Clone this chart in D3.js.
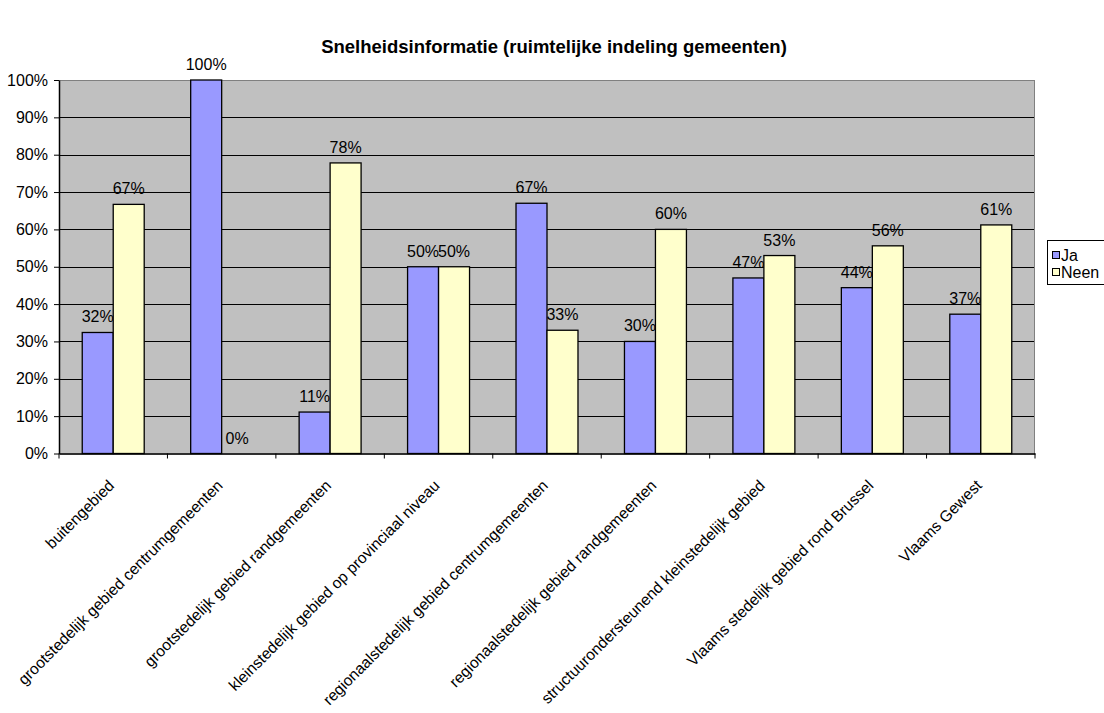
<!DOCTYPE html>
<html><head><meta charset="utf-8">
<script src="https://cdn.jsdelivr.net/npm/d3@7"></script>
<style>body{margin:0;background:#fff;font-family:Arial,"Liberation Sans",sans-serif}</style>
</head><body>
<svg id="c" width="1104" height="713"></svg>
<script>
const title = "Snelheidsinformatie (ruimtelijke indeling gemeenten)";
const categories = ["buitengebied","grootstedelijk gebied centrumgemeenten","grootstedelijk gebied randgemeenten","kleinstedelijk gebied op provinciaal niveau","regionaalstedelijk gebied centrumgemeenten","regionaalstedelijk gebied randgemeenten","structuurondersteunend kleinstedelijk gebied","Vlaams stedelijk gebied rond Brussel","Vlaams Gewest"];
const seriesNames = ["Ja","Neen"];
const ja = [32.4, 100, 11.1, 50, 67, 30, 47, 44.4, 37.3];
const neen = [66.7, 0, 77.8, 50, 33, 60, 53, 55.6, 61.2];
const colors = ["#9999FF","#FFFFCC"];
const yTicks = [0,10,20,30,40,50,60,70,80,90,100];

const FF = "Arial,'Liberation Sans',sans-serif";
const FS = "16px";
const svg = d3.select("#c");
const L = 59, R = 1035, T = 80, B = 453.5;
const x0 = d3.scaleBand().domain(categories).range([L,R]).paddingInner(0).paddingOuter(0);
const y = d3.scaleLinear().domain([0,100]).range([B,T]);
const bw = x0.bandwidth()/3.5;
const x1 = d3.scaleBand().domain(seriesNames).range([x0.bandwidth()*0.75/3.5, x0.bandwidth()*0.75/3.5 + 2*bw]);

svg.append("text").attr("x",554).attr("y",53).attr("text-anchor","middle").attr("font-family",FF)
  .attr("font-size","18.5px").attr("font-weight","bold").text(title);

svg.append("rect").attr("x",L).attr("y",T).attr("width",R-L).attr("height",B-T).attr("fill","#C0C0C0");
svg.append("g").selectAll("line").data(yTicks.filter(d=>d>0)).join("line")
  .attr("x1",L).attr("x2",R).attr("y1",d=>Math.round(y(d))+0.5).attr("y2",d=>Math.round(y(d))+0.5)
  .attr("stroke","#000").attr("stroke-width",1);
svg.append("rect").attr("x",L+0.5).attr("y",T+0.5).attr("width",R-L-1).attr("height",B-T).attr("fill","none").attr("stroke","#808080");

const data = [ja, neen];
const g = svg.append("g");
seriesNames.forEach((s,si)=>{
  g.selectAll(null).data(categories).join("rect")
    .attr("x",c=>x0(c)+x1(s)).attr("width",x1.bandwidth())
    .attr("y",(c,i)=>y(data[si][i])).attr("height",(c,i)=>B-y(data[si][i]))
    .attr("fill",colors[si]).attr("stroke","#000").attr("stroke-width",1.3);
  g.selectAll(null).data(categories).join("text")
    .attr("x",c=>x0(c)+x1(s)+x1.bandwidth()/2).attr("y",(c,i)=>y(data[si][i])-10)
    .attr("text-anchor","middle").attr("font-size",FS).attr("font-family",FF).attr("fill","#000")
    .text((c,i)=>Math.round(data[si][i])+"%");
});

const yAxis = svg.append("g").attr("transform",`translate(${L},0)`)
  .call(d3.axisLeft(y).tickValues(yTicks).tickFormat(d=>d+"%").tickSize(5).tickSizeOuter(0));
yAxis.select(".domain").attr("stroke","#000").attr("stroke-width",1.5);
yAxis.selectAll("text").attr("font-size",FS).attr("font-family",FF).attr("x",-11).attr("fill","#000");

const xAxis = svg.append("g").attr("transform",`translate(0,${B})`)
  .call(d3.axisBottom(x0).tickValues([]).tickSizeOuter(0));
xAxis.select(".domain").attr("stroke","#000").attr("stroke-width",1.5);
xAxis.selectAll("line.tk").data(d3.range(categories.length+1)).join("line")
  .attr("x1",i=>L+i*x0.bandwidth()).attr("x2",i=>L+i*x0.bandwidth()).attr("y1",0).attr("y2",5).attr("stroke","#000");
xAxis.selectAll("text.lbl").data(categories).join("text")
  .attr("transform",c=>`translate(${x0(c)+x0.bandwidth()/2+2},${33}) rotate(-45)`)
  .attr("text-anchor","end").attr("font-size","15.6px").attr("fill","#000")
  .attr("font-family",FF).text(c=>c);

const lg = svg.append("g");
lg.append("rect").attr("x",1047.5).attr("y",240.5).attr("width",70).attr("height",44).attr("fill","#fff").attr("stroke","#000");
seriesNames.forEach((s,i)=>{
  lg.append("rect").attr("x",1052.5).attr("y",251.5+i*17).attr("width",7).attr("height",7).attr("fill",colors[i]).attr("stroke","#000");
  lg.append("text").attr("x",1061).attr("y",261+i*17).attr("font-size",FS).attr("font-family",FF).text(s);
});
</script>
</body></html>
